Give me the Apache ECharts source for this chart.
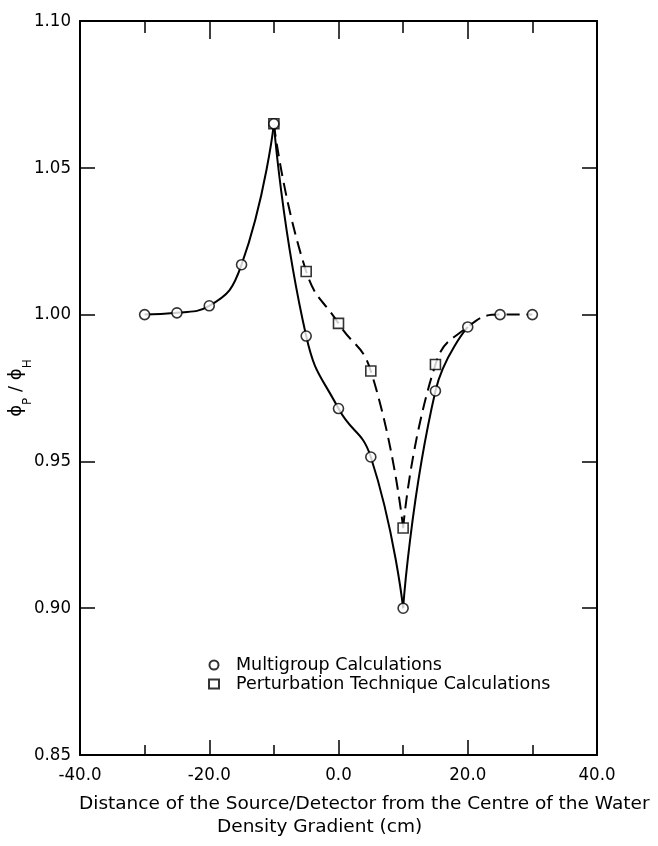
<!DOCTYPE html>
<html>
<head>
<meta charset="utf-8">
<script src="https://cdn.jsdelivr.net/npm/echarts@6/dist/echarts.min.js"></script>
<style>
  html, body { margin: 0; padding: 0; background: #fff; }
  #chart { width: 658px; height: 846px; }
</style>
</head>
<body>
<div id="chart"></div>
<script>
// Source/detector position (cm) and flux ratio from the multigroup calculation
const distances = [-30, -25, -20, -15, -10, -5, 0, 5, 10, 15, 20, 25, 30];
const multigroup = [1.000, 1.0006, 1.003, 1.017, 1.065, 0.9927, 0.968, 0.9515, 0.900, 0.974, 0.9958, 1.000, 1.000];

// Perturbation technique: computed points (squares) and the dashed curve continuing to the edge
const perturbDist = [-10, -5, 0, 5, 10, 15, 20, 25, 30];
const perturbation = [1.065, 1.0147, 0.997, 0.9808, 0.9273, 0.983, 0.9958, 1.000, 1.000];
const perturbComputed = 6; // the first six points are calculated values

// Curve pieces meet in sharp cusps at the peak and the dip
const breaks = [-10, 10];

const xTicks = [-40, -20, 0, 20, 40];
const yTicks = [0.85, 0.90, 0.95, 1.00, 1.05, 1.10];

const TICK_FONT = 'DejaVu Sans Condensed';
const TEXT_FONT = 'DejaVu Sans';

function pairs(xs, ys) { return xs.map((x, i) => [x, ys[i]]); }
function piece(pts, lo, hi) { return pts.filter(p => p[0] >= lo && p[0] <= hi); }

const mgPts = pairs(distances, multigroup);
const ptPts = pairs(perturbDist, perturbation);

const solidLine = { color: '#000', width: 2 };
const dashLine = { color: '#000', width: 2, type: [13, 7] };

function lineSeries(data, style) {
  return { type: 'line', data: data, smooth: 0.5, symbol: 'none', lineStyle: style,
           silent: true, z: 2, legendHoverLink: false };
}

const series = [
  // solid multigroup curve up to 20 cm, after which it coincides with the dashed one
  lineSeries(piece(mgPts, -30, breaks[0]), solidLine),
  lineSeries(piece(mgPts, breaks[0], breaks[1]), solidLine),
  lineSeries(piece(mgPts, breaks[1], 20), solidLine),
  lineSeries(piece(ptPts, breaks[0], breaks[1]), dashLine),
  lineSeries(piece(ptPts, breaks[1], 30), dashLine),
  {
    name: 'Perturbation Technique Calculations',
    type: 'scatter', data: ptPts.slice(0, perturbComputed), symbol: 'rect', symbolSize: 10,
    itemStyle: { color: '#fff', borderColor: '#000', borderWidth: 1.6 }, z: 4
  },
  {
    name: 'Multigroup Calculations',
    type: 'scatter', data: mgPts, symbol: 'circle', symbolSize: 10,
    itemStyle: { color: '#fff', borderColor: '#000', borderWidth: 1.6 }, z: 5
  }
];

const axisLine = { show: true, onZero: false, lineStyle: { color: '#000', width: 2 } };
const labelStyle = { color: '#000', fontFamily: TICK_FONT, fontSize: 18.5 };
const tickStyle = { color: '#000', width: 1.5 };

function xAxisDef(pos, majorLen, minorLen, showLabels) {
  return {
    type: 'value', position: pos, min: xTicks[0], max: xTicks[xTicks.length - 1], interval: 20,
    axisLine: axisLine,
    axisTick: { show: true, inside: true, length: majorLen, lineStyle: tickStyle },
    minorTick: { show: true, splitNumber: 2, length: minorLen, lineStyle: tickStyle },
    splitLine: { show: false },
    axisLabel: showLabels ? Object.assign({ margin: 11, formatter: v => v.toFixed(1) }, labelStyle)
                          : { show: false }
  };
}

const chart = echarts.init(document.getElementById('chart'), null, { renderer: 'canvas' });
chart.setOption({
  backgroundColor: '#fff',
  animation: false,
  grid: { left: 80, right: 61, top: 21, bottom: 91, containLabel: false, outerBoundsMode: 'none' },
  legend: {
    orient: 'vertical', left: 203, top: 651, itemGap: 1,
    itemWidth: 10, itemHeight: 9,
    data: [
      { name: 'Multigroup Calculations', icon: 'circle' },
      { name: 'Perturbation Technique Calculations', icon: 'rect' }
    ],
    textStyle: { color: '#000', fontFamily: TEXT_FONT, fontSize: 17.5, padding: [0, 0, 0, 12] },
    selectedMode: false
  },
  xAxis: [xAxisDef('bottom', 15, 10, true), xAxisDef('top', 18, 12, false)],
  yAxis: [{
    type: 'value', position: 'left', min: yTicks[0], max: yTicks[yTicks.length - 1], interval: 0.05,
    axisLine: axisLine,
    axisTick: { show: true, inside: true, length: 15, lineStyle: tickStyle },
    splitLine: { show: false },
    axisLabel: Object.assign({ margin: 9, formatter: v => v.toFixed(2) }, labelStyle),
    name: '{a|ϕ}{s|P}{a| / ϕ}{s|H}',
    nameLocation: 'middle', nameRotate: 90, nameGap: 52, nameMoveOverlap: false,
    nameTextStyle: {
      color: '#000', fontFamily: TEXT_FONT,
      rich: {
        a: { fontSize: 18, fontFamily: TEXT_FONT, color: '#000', lineHeight: 24, verticalAlign: 'middle' },
        s: { fontSize: 12, fontFamily: TEXT_FONT, color: '#000', lineHeight: 24, verticalAlign: 'bottom', padding: [0, 0, -6, 0] }
      }
    }
  }, {
    type: 'value', position: 'right', min: yTicks[0], max: yTicks[yTicks.length - 1], interval: 0.05,
    axisLine: axisLine,
    axisTick: { show: true, inside: true, length: 15, lineStyle: tickStyle },
    splitLine: { show: false }, axisLabel: { show: false }
  }],
  graphic: [
    { type: 'text', left: 79, top: 795,
      style: { text: 'Distance of the Source/Detector from the Centre of the Water',
               fill: '#000', font: '18.5px "' + TEXT_FONT + '"' } },
    { type: 'text', left: 217, top: 818,
      style: { text: 'Density Gradient (cm)', fill: '#000', font: '18.5px "' + TEXT_FONT + '"' } }
  ],
  series: series
});
</script>
</body>
</html>
